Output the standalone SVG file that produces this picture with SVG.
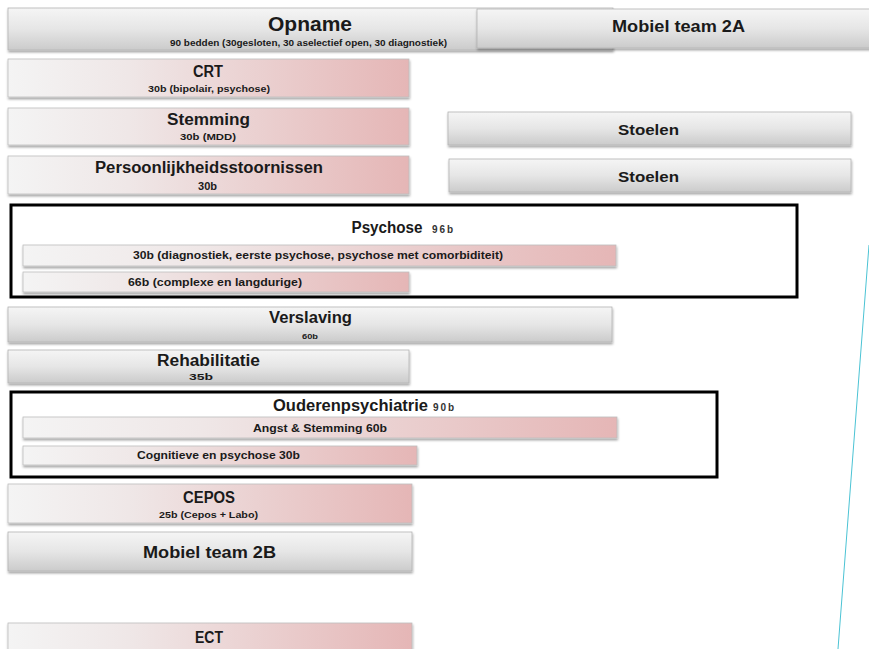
<svg xmlns="http://www.w3.org/2000/svg" width="869" height="649" viewBox="0 0 869 649">
<defs>
<linearGradient id="gray" x1="0" y1="0" x2="0" y2="1">
<stop offset="0" stop-color="#f5f5f5"/>
<stop offset="0.5" stop-color="#e6e6e6"/>
<stop offset="1" stop-color="#cbcbcb"/>
</linearGradient>
<linearGradient id="pink" x1="0" y1="0" x2="1" y2="0">
<stop offset="0" stop-color="#f4f4f4"/>
<stop offset="0.3" stop-color="#efe7e7"/>
<stop offset="1" stop-color="#e5b6b6"/>
</linearGradient>
<filter id="sh" x="-5%" y="-20%" width="110%" height="160%">
<feDropShadow dx="0.5" dy="2" stdDeviation="1.2" flood-color="#000" flood-opacity="0.35"/>
</filter>
</defs>
<style>
.g{fill:url(#gray);stroke:#b3b3b3;stroke-width:0.8;filter:url(#sh)}
.p{fill:url(#pink);stroke:#bdbdbd;stroke-width:0.8;filter:url(#sh)}
.fr{fill:none;stroke:#000;stroke-width:3}
text{font-family:"Liberation Sans",Arial,sans-serif;font-weight:bold;fill:#1a1a1a;text-anchor:middle}
.t{font-size:16px}
.s{font-size:9px}
.b{font-size:11px}
.x{font-size:10px;text-anchor:start;fill:#333}
</style>
<rect width="869" height="649" fill="#fff"/>

<g id="opname">
<rect class="g" x="8" y="8" width="605" height="42"/>
<text x="310" y="31" style="font-size:21px" textLength="84" lengthAdjust="spacingAndGlyphs">Opname</text>
<text class="s" x="308.5" y="46" textLength="277" lengthAdjust="spacingAndGlyphs">90 bedden (30gesloten, 30 aselectief open, 30 diagnostiek)</text>
</g>
<g id="mobiel2a">
<rect class="g" x="477" y="9" width="400" height="39"/>
<text x="678.5" y="32" style="font-size:16px" textLength="133" lengthAdjust="spacingAndGlyphs">Mobiel team 2A</text>
</g>

<g id="crt">
<rect class="p" x="8" y="59" width="401" height="38"/>
<text class="t" x="208" y="77" textLength="30" lengthAdjust="spacingAndGlyphs">CRT</text>
<text class="s" x="209" y="92" textLength="122" lengthAdjust="spacingAndGlyphs">30b (bipolair, psychose)</text>
</g>
<g id="stemming">
<rect class="p" x="8" y="108" width="401" height="37"/>
<text class="t" x="208.5" y="125" textLength="83" lengthAdjust="spacingAndGlyphs">Stemming</text>
<text class="s" x="208" y="140" textLength="56" lengthAdjust="spacingAndGlyphs">30b (MDD)</text>
</g>
<g id="persoonlijkheid">
<rect class="p" x="8" y="156" width="401" height="38"/>
<text class="t" x="209" y="173" textLength="228" lengthAdjust="spacingAndGlyphs">Persoonlijkheidsstoornissen</text>
<text x="207.5" y="190" style="font-size:10px" textLength="19" lengthAdjust="spacingAndGlyphs">30b</text>
</g>
<g id="stoelen1">
<rect class="g" x="448" y="112" width="403" height="33"/>
<text x="648.5" y="135" style="font-size:15px" textLength="61" lengthAdjust="spacingAndGlyphs">Stoelen</text>
</g>
<g id="stoelen2">
<rect class="g" x="449" y="159" width="402" height="33"/>
<text x="648.5" y="182" style="font-size:15px" textLength="61" lengthAdjust="spacingAndGlyphs">Stoelen</text>
</g>

<g id="psychose">
<rect class="fr" x="11" y="205" width="786" height="92"/>
<text class="t" x="387" y="233" textLength="71" lengthAdjust="spacingAndGlyphs">Psychose</text>
<text class="x" x="432" y="233" textLength="21" lengthAdjust="spacing">96b</text>
<g id="psychose-30b">
<rect class="p" x="23" y="245" width="593" height="21"/>
<text class="b" x="318" y="259" textLength="370" lengthAdjust="spacingAndGlyphs">30b (diagnostiek, eerste psychose, psychose met comorbiditeit)</text>
</g>
<g id="psychose-66b">
<rect class="p" x="23" y="272" width="386" height="20"/>
<text class="b" x="215" y="286" textLength="174" lengthAdjust="spacingAndGlyphs">66b (complexe en langdurige)</text>
</g>
</g>

<g id="verslaving">
<rect class="g" x="8" y="307" width="604" height="35"/>
<text class="t" x="310.5" y="323" textLength="83" lengthAdjust="spacingAndGlyphs">Verslaving</text>
<text x="310" y="339" style="font-size:7px" textLength="16" lengthAdjust="spacingAndGlyphs">60b</text>
</g>
<g id="rehabilitatie">
<rect class="g" x="8" y="350" width="401" height="33"/>
<text class="t" x="208.5" y="366" textLength="103" lengthAdjust="spacingAndGlyphs">Rehabilitatie</text>
<text class="s" x="201" y="380" textLength="24" lengthAdjust="spacingAndGlyphs">35b</text>
</g>

<g id="ouderenpsychiatrie">
<rect class="fr" x="11" y="392" width="706" height="85"/>
<text class="t" x="350.5" y="411" textLength="155" lengthAdjust="spacingAndGlyphs">Ouderenpsychiatrie</text>
<text class="x" x="433" y="411" textLength="21" lengthAdjust="spacing">90b</text>
<g id="angst">
<rect class="p" x="23" y="417" width="594" height="21"/>
<text class="b" x="320" y="432" textLength="134" lengthAdjust="spacingAndGlyphs">Angst &amp; Stemming 60b</text>
</g>
<g id="cognitieve">
<rect class="p" x="23" y="446" width="394" height="19"/>
<text class="b" x="218.5" y="459" textLength="163" lengthAdjust="spacingAndGlyphs">Cognitieve en psychose  30b</text>
</g>
</g>

<g id="cepos">
<rect class="p" x="8" y="484" width="404" height="39"/>
<text class="t" x="209" y="503" textLength="52" lengthAdjust="spacingAndGlyphs">CEPOS</text>
<text class="s" x="208.5" y="518" textLength="99" lengthAdjust="spacingAndGlyphs">25b (Cepos + Labo)</text>
</g>
<g id="mobiel2b">
<rect class="g" x="8" y="532" width="404" height="39"/>
<text x="209.5" y="558" style="font-size:17px" textLength="133" lengthAdjust="spacingAndGlyphs">Mobiel team 2B</text>
</g>
<g id="ect">
<rect class="p" x="8" y="623" width="404" height="40"/>
<text class="t" x="209" y="643" textLength="28" lengthAdjust="spacingAndGlyphs">ECT</text>
</g>

<g id="connectors">
<line x1="869" y1="245" x2="838" y2="649" stroke="#4bc3d4" stroke-width="1"/>
</g>
</svg>
